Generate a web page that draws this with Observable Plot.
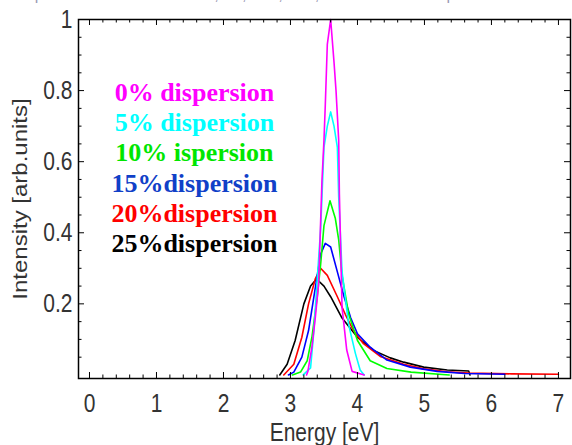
<!DOCTYPE html>
<html><head><meta charset="utf-8">
<script src="https://cdn.jsdelivr.net/npm/d3@7"></script>
<script src="https://cdn.jsdelivr.net/npm/@observablehq/plot@0.6"></script>
<style>
html,body{margin:0;padding:0;background:#fff;overflow:hidden}
#wrap{position:relative;width:572px;height:445px;overflow:hidden}
#chart{position:absolute;left:0;top:0}
#title{position:absolute;left:8px;top:-14px;font:16px "Liberation Sans",Arial,sans-serif;color:#9a9ab4;white-space:nowrap}
</style></head><body>
<div id="wrap"><div id="chart"></div><div id="title">Graph of Norm. EELS for 0%,5%,10%,15%,20% and 25% Dispersion</div></div>
<script>
// ---- data ----
const seriesNames = ["0% dispersion","5% dispersion","10% ispersion","15%dispersion","20%dispersion","25%dispersion"];
const energy0 = [3.24,3.26,3.32,3.37,3.42,3.47,3.50,3.52,3.55,3.60,3.65,3.68,3.72,3.73,3.75,3.77,3.84,3.92,4.10];
const int0    = [0,0.01,0.078,0.16,0.256,0.546,0.66,0.76,0.93,1.0,0.88,0.80,0.66,0.51,0.35,0.19,0.07,0.01,0];
const energy5 = [3.19,3.30,3.35,3.40,3.45,3.47,3.50,3.55,3.60,3.65,3.70,3.72,3.77,3.87,3.97,4.04,4.10];
const int5    = [0,0.02,0.125,0.27,0.41,0.50,0.64,0.70,0.74,0.70,0.64,0.50,0.29,0.14,0.06,0.014,0];
const energy10 = [3.03,3.15,3.25,3.32,3.40,3.45,3.50,3.59,3.67,3.72,3.77,3.87,4.00,4.19,4.44,4.80,5.37];
const int10    = [0,0.008,0.04,0.106,0.22,0.31,0.42,0.49,0.44,0.38,0.28,0.17,0.097,0.04,0.018,0.008,0];
const energy15 = [2.97,3.05,3.17,3.27,3.35,3.40,3.45,3.52,3.60,3.70,3.80,3.90,4.00,4.19,4.44,4.79,5.19,5.60,6.20];
const int15    = [0,0.008,0.05,0.125,0.22,0.28,0.34,0.37,0.36,0.29,0.22,0.16,0.116,0.078,0.042,0.022,0.01,0.004,0.002];
const energy20 = [2.90,3.05,3.17,3.27,3.37,3.45,3.55,3.70,3.82,3.94,4.09,4.34,4.69,4.99,5.34,5.66,6.30,7.00];
const int20    = [0,0.03,0.106,0.20,0.27,0.30,0.28,0.22,0.17,0.125,0.088,0.052,0.03,0.017,0.009,0.005,0.003,0.002];
const energy25 = [2.84,2.95,3.07,3.20,3.30,3.39,3.50,3.60,3.77,4.00,4.24,4.49,4.69,4.99,5.34,5.66,5.68];
const int25    = [0,0.03,0.097,0.20,0.25,0.27,0.25,0.22,0.16,0.106,0.069,0.048,0.036,0.022,0.014,0.011,0];
const xTickLabels = ["0","1","2","3","4","5","6","7"];
const yTickLabels = ["0.2","0.4","0.6","0.8","1"];
const xLabel = "Energy [eV]";
const yLabel = "Intensity [arb.units]";

// ---- styles ----
const lineColors = ["#ff00ff","#00ffff","#00ff00","#0000ff","#ff0000","#000000"];
const textColors = ["#ff00ff","#00ffff","#00e600","#1040c8","#ff0000","#000000"];

const energies = [energy0,energy5,energy10,energy15,energy20,energy25];
const intensities = [int0,int5,int10,int15,int20,int25];
const rows = [];
// draw 25% first, 0% last (on top)
for (let s = 5; s >= 0; s--) {
  energies[s].forEach((e, i) => rows.push({series: s, energy: e, intensity: intensities[s][i]}));
}

const W = 572, H = 445, mL = 78, mR = 2, mT = 19, mB = 67;
const plotH = H - mT - mB, plotW = W - mL - mR;
const xTicks = xTickLabels.map(Number);
const yTicks = yTickLabels.map(Number);
const xMinor = d3.range(0, 7.001, 0.2).map(v => +v.toFixed(2)).filter(v => Math.abs(v - Math.round(v)) > 1e-6);
const yMinor = d3.range(0.05, 1.001, 0.05).map(v => +v.toFixed(2)).filter(v => Math.abs(v*5 - Math.round(v*5)) > 1e-6);
const majLen = 6, minLen = 3.5;

const legendY = seriesNames.map((n, i) => 0.795 - i * 0.0845 - (i >= 3 ? 0.003 : 0));
const legendX = 1.567;

const tickFont = '"Liberation Sans", Arial, sans-serif';

const chart = Plot.plot({
  width: W, height: H,
  marginLeft: mL, marginRight: mR, marginTop: mT, marginBottom: mB,
  x: {domain: [-0.164, 7.18], axis: null},
  y: {domain: [-0.01, 1.0], axis: null},
  style: {background: "white", overflow: "visible"},
  marks: [
    Plot.line(rows, {x: "energy", y: "intensity", z: "series", stroke: d => lineColors[d.series], strokeWidth: 1.6, curve: "linear"}),
    Plot.frame({stroke: "#000", strokeWidth: 1.5}),
    // bottom ticks
    Plot.tickX(xTicks, {x: d => d, insetTop: plotH - majLen, stroke: "#000"}),
    Plot.tickX(xMinor, {x: d => d, insetTop: plotH - minLen, stroke: "#000"}),
    // top ticks
    Plot.tickX(xTicks, {x: d => d, insetBottom: plotH - majLen, stroke: "#000"}),
    Plot.tickX(xMinor, {x: d => d, insetBottom: plotH - minLen, stroke: "#000"}),
    // left ticks
    Plot.tickY(yTicks, {y: d => d, insetRight: plotW - majLen, stroke: "#000"}),
    Plot.tickY(yMinor, {y: d => d, insetRight: plotW - minLen, stroke: "#000"}),
    // right ticks
    Plot.tickY(yTicks, {y: d => d, insetLeft: plotW - majLen, stroke: "#000"}),
    Plot.tickY(yMinor, {y: d => d, insetLeft: plotW - minLen, stroke: "#000"}),
    // tick labels
    Plot.text(xTickLabels, {x: d => +d, text: d => d, frameAnchor: "bottom", dy: 25, lineAnchor: "middle",
      fontSize: 21, fontFamily: tickFont, fill: "#333", className: "vstretch"}),
    Plot.text(yTickLabels, {y: d => +d, text: d => d, frameAnchor: "left", dx: -6, textAnchor: "end", lineAnchor: "middle",
      fontSize: 21, fontFamily: tickFont, fill: "#333", className: "vstretch"}),
    // axis labels
    Plot.text([xLabel], {text: d => d, frameAnchor: "bottom", dy: 54, lineAnchor: "middle", textAnchor: "middle",
      fontSize: 21, fontFamily: tickFont, fill: "#333", className: "vstretch"}),
    Plot.text([yLabel], {text: d => d, frameAnchor: "left", dx: -58, rotate: -90, lineAnchor: "middle", textAnchor: "middle",
      fontSize: 20, fontFamily: tickFont, fill: "#333", className: "hstretch"}),
    // legend
    Plot.text(seriesNames, {x: () => legendX, y: (d, i) => legendY[i], text: d => d, fill: (d, i) => textColors[seriesNames.indexOf(d)],
      fontSize: 26, fontWeight: "bold", fontFamily: '"Liberation Serif", "Times New Roman", serif', lineAnchor: "middle", textAnchor: "middle"})
  ]
});

// vertical stretch of axis text (as in the reference rendering)
chart.querySelectorAll("g.vstretch text").forEach(t => {
  t.setAttribute("transform", (t.getAttribute("transform") || "") + " scale(1,1.2)");
});
chart.querySelectorAll("g.hstretch text").forEach(t => {
  t.setAttribute("transform", (t.getAttribute("transform") || "") + " scale(1.2,1)");
});
document.getElementById("chart").appendChild(chart);
</script></body></html>
